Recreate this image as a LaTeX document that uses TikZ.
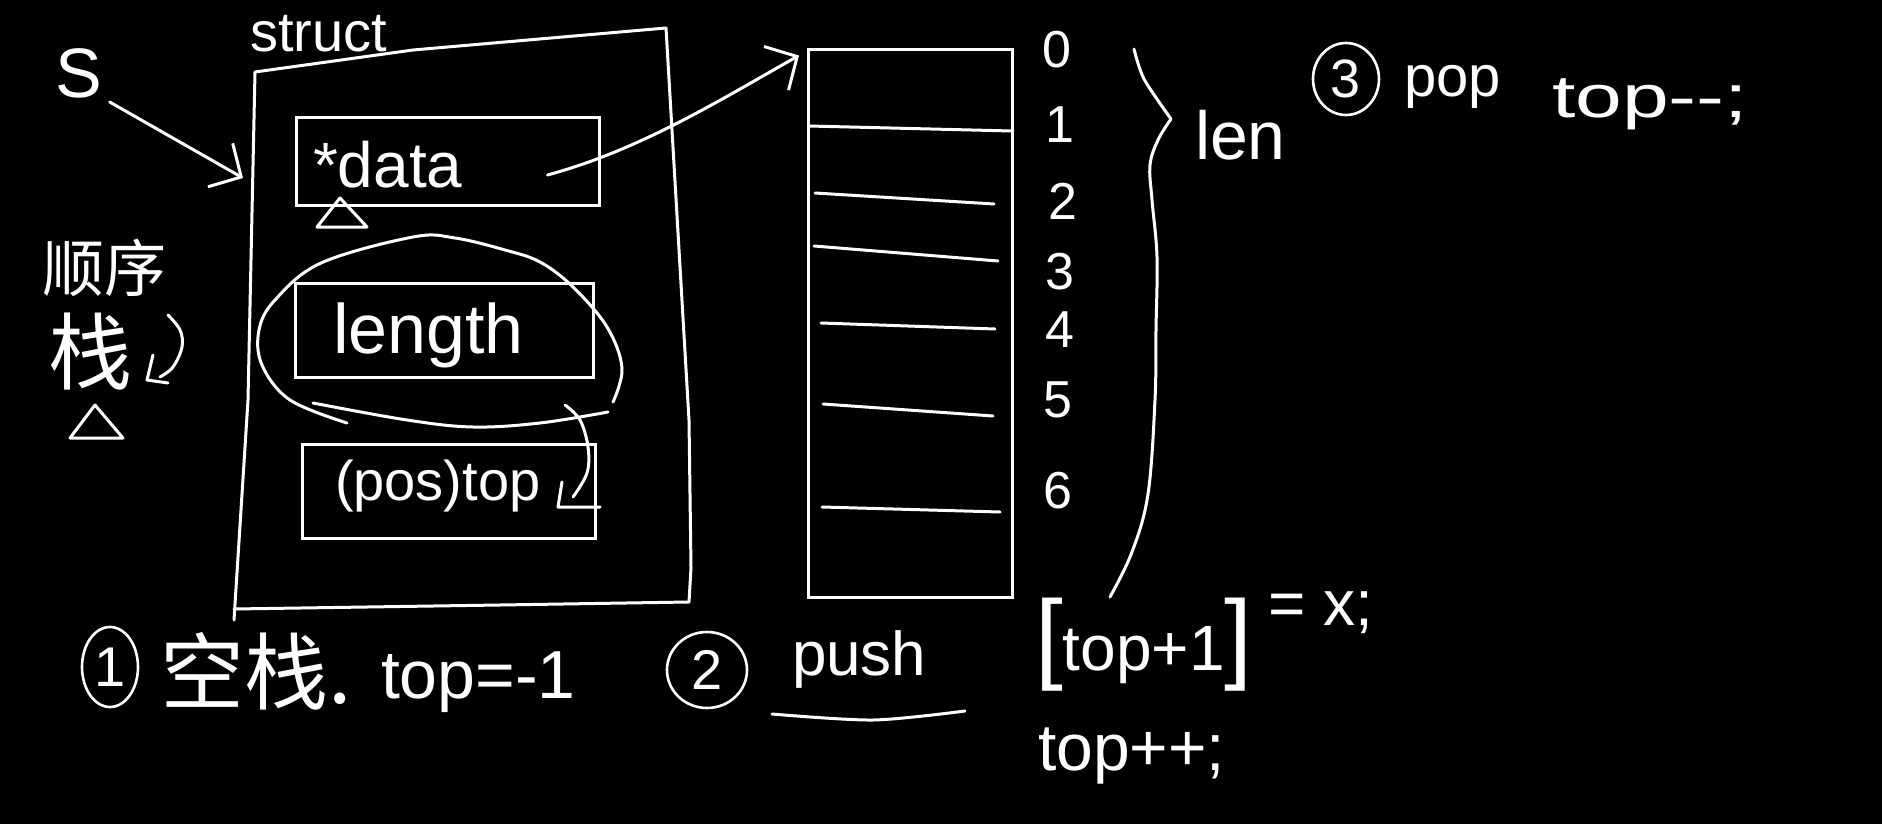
\documentclass[tikz,border=0pt]{standalone}
\usepackage{fontspec}
\setmainfont{Liberation Sans}
\newfontfamily\cjk{Noto Sans CJK SC}
\usetikzlibrary{arrows.meta,shapes.geometric,calc}
\newcommand{\hsz}[1]{\fontsize{#1}{#1}\selectfont}
\begin{document}
\begin{tikzpicture}[x=1pt,y=-1pt, color=white,
  lbl/.style={inner sep=0pt, outer sep=0pt, text=white},
  box/.style={draw=white, line width=3pt, inner sep=0pt, rectangle},
  circ/.style={draw=white, line width=2.6pt, ellipse, inner sep=0pt, text=white},
  arr/.style={-{Straight Barb[length=24pt,width=50pt]}},
  stroke/.style={draw=white, line width=3pt, line cap=round, line join=round}]
\fill[black] (0,0) rectangle (1882,824);
\useasboundingbox (0,0) rectangle (1882,824);

% S and its arrow
\node[lbl, anchor=base west, font=\hsz{70}] (S) at (55,98) {S};
\coordinate (sIn) at (243,178);
\draw[stroke, arr] ($(S.base east)+(8,4)$) -- (sIn);

% struct outline
\draw[stroke] (234,620) -- (248,400) -- (255,72) -- (413,50) -- (666,28) -- (689,420) -- (691,568) -- (689,602) -- (500,605) -- (234,609);
\node[lbl, anchor=base west, font=\hsz{56}] (structlbl) at (250,52) {struct};

% *data
\node[box, minimum width=303pt, minimum height=87pt] (data) at (447.5,161.5) {};
\node[lbl, anchor=base west, font=\hsz{64}] (datatxt) at (313,187) {*data};
\draw[stroke] (340,198) -- (317,227) -- (367,227) -- cycle;

% length
\node[box, minimum width=298pt, minimum height=94pt] (lenbox) at (444,330) {};
\node[lbl, anchor=base west, font=\hsz{70}] (lentxt) at (333,353) {length};
\draw[stroke] plot[smooth, tension=0.6] coordinates {(613,402) (622,368) (607,327) (573,287) (540,262) (505,250) (455,238) (413,237) (321,263) (275,300) (259,330) (262,365) (290,400) (347,423)};
\draw[stroke] plot[smooth, tension=0.6] coordinates {(313,403) (407,420) (473,427) (540,423) (608,412)};

% (pos)top
\node[box, minimum width=293pt, minimum height=94pt] (posbox) at (448.5,491) {};
\node[lbl, anchor=base west, font=\hsz{56}] (postxt) at (335,500) {(pos)top};
\draw[stroke] plot[smooth, tension=0.6] coordinates {(565,405) (580,420) (588,447) (587,473) (573,497)};
\draw[stroke] (562,482) -- (558,507) -- (600,507);

% left label
\node[lbl, anchor=west, font=\cjk\hsz{62}] (shunxu) at (42,268) {顺序};
\node[lbl, font=\cjk\hsz{84}] (zhan) at (90,352) {栈};
\draw[stroke] plot[smooth, tension=0.6] coordinates {(168,315) (180,330) (182,347) (173,367) (160,377)};
\draw[stroke] (153,355) -- (147,380) -- (168,383);
\draw[stroke] (95,405) -- (70,438) -- (123,438) -- cycle;

% stack array
\node[box, minimum width=204pt, minimum height=547pt] (stack) at (910.5,323.5) {};
\coordinate (stackIn) at ($(stack.north west)+(-8,7)$);
\coordinate (dStart) at ($(data.east)+(-53,13.5)$);
\draw[stroke, arr] (dStart) .. controls (640,150) and (720,100) .. (stackIn);
\draw[stroke] (809,126) -- (1012,131);
\draw[stroke] (815,193) -- (994,204);
\draw[stroke] (814,246) -- (998,261);
\draw[stroke] (821,323) -- (995,329);
\draw[stroke] (823,404) -- (993,416);
\draw[stroke] (822,507) -- (1000,512);
\foreach \i/\x/\y in {0/1057/50, 1/1060/125, 2/1063/201, 3/1060/272, 4/1060/330, 5/1058/400, 6/1058/491}
  \node[lbl, font=\hsz{52}] (idx\i) at (\x,\y) {\i};

% brace and len
\draw[stroke] plot[smooth, tension=0.5] coordinates {(1134,49) (1144,79) (1171,119)};
\draw[stroke] plot[smooth, tension=0.6] coordinates {(1171,119) (1158,140) (1150,165) (1152,200) (1157,257) (1156,330) (1155,400) (1148,494) (1132,552) (1110,597)};
\node[lbl, anchor=base west, font=\hsz{68}] (len) at (1195,160) {len};

% pop
\node[circ, minimum width=66pt, minimum height=72pt, font=\hsz{54}] (c3) at (1346,79) {3};
\node[lbl, anchor=base west, font=\hsz{58}] (pop) at (1404,97) {pop};
\node[lbl, anchor=base west, font=\hsz{60}] (popcode) at (1552,118) {\scalebox{1.4}[1]{top-{}-;}};

% empty stack
\node[circ, minimum width=56pt, minimum height=80pt, font=\hsz{56}] (c1) at (110,667) {1};
\node[lbl, anchor=west, font=\cjk\hsz{84}] (empty) at (160,671) {空栈.};
\node[lbl, anchor=base west, font=\hsz{68}] (topinit) at (381,698) {top=-1};

% push
\node[circ, minimum width=80pt, minimum height=76pt, font=\hsz{56}] (c2) at (707,670) {2};
\node[lbl, anchor=base west, font=\hsz{62}] (push) at (792,675) {push};
\draw[stroke] plot[smooth] coordinates {(772,714) (873,720) (965,711)};
\node[lbl, anchor=base west, font=\hsz{64}] (assign) at (1035,670) {{\hsz{100}[}top+1{\hsz{100}]}};
\node[lbl, anchor=base west, font=\hsz{64}] (assignb) at (1268,625) {= x;};
\node[lbl, anchor=base west, font=\hsz{66}] (inc) at (1038,770) {top++;};
\end{tikzpicture}
\end{document}
